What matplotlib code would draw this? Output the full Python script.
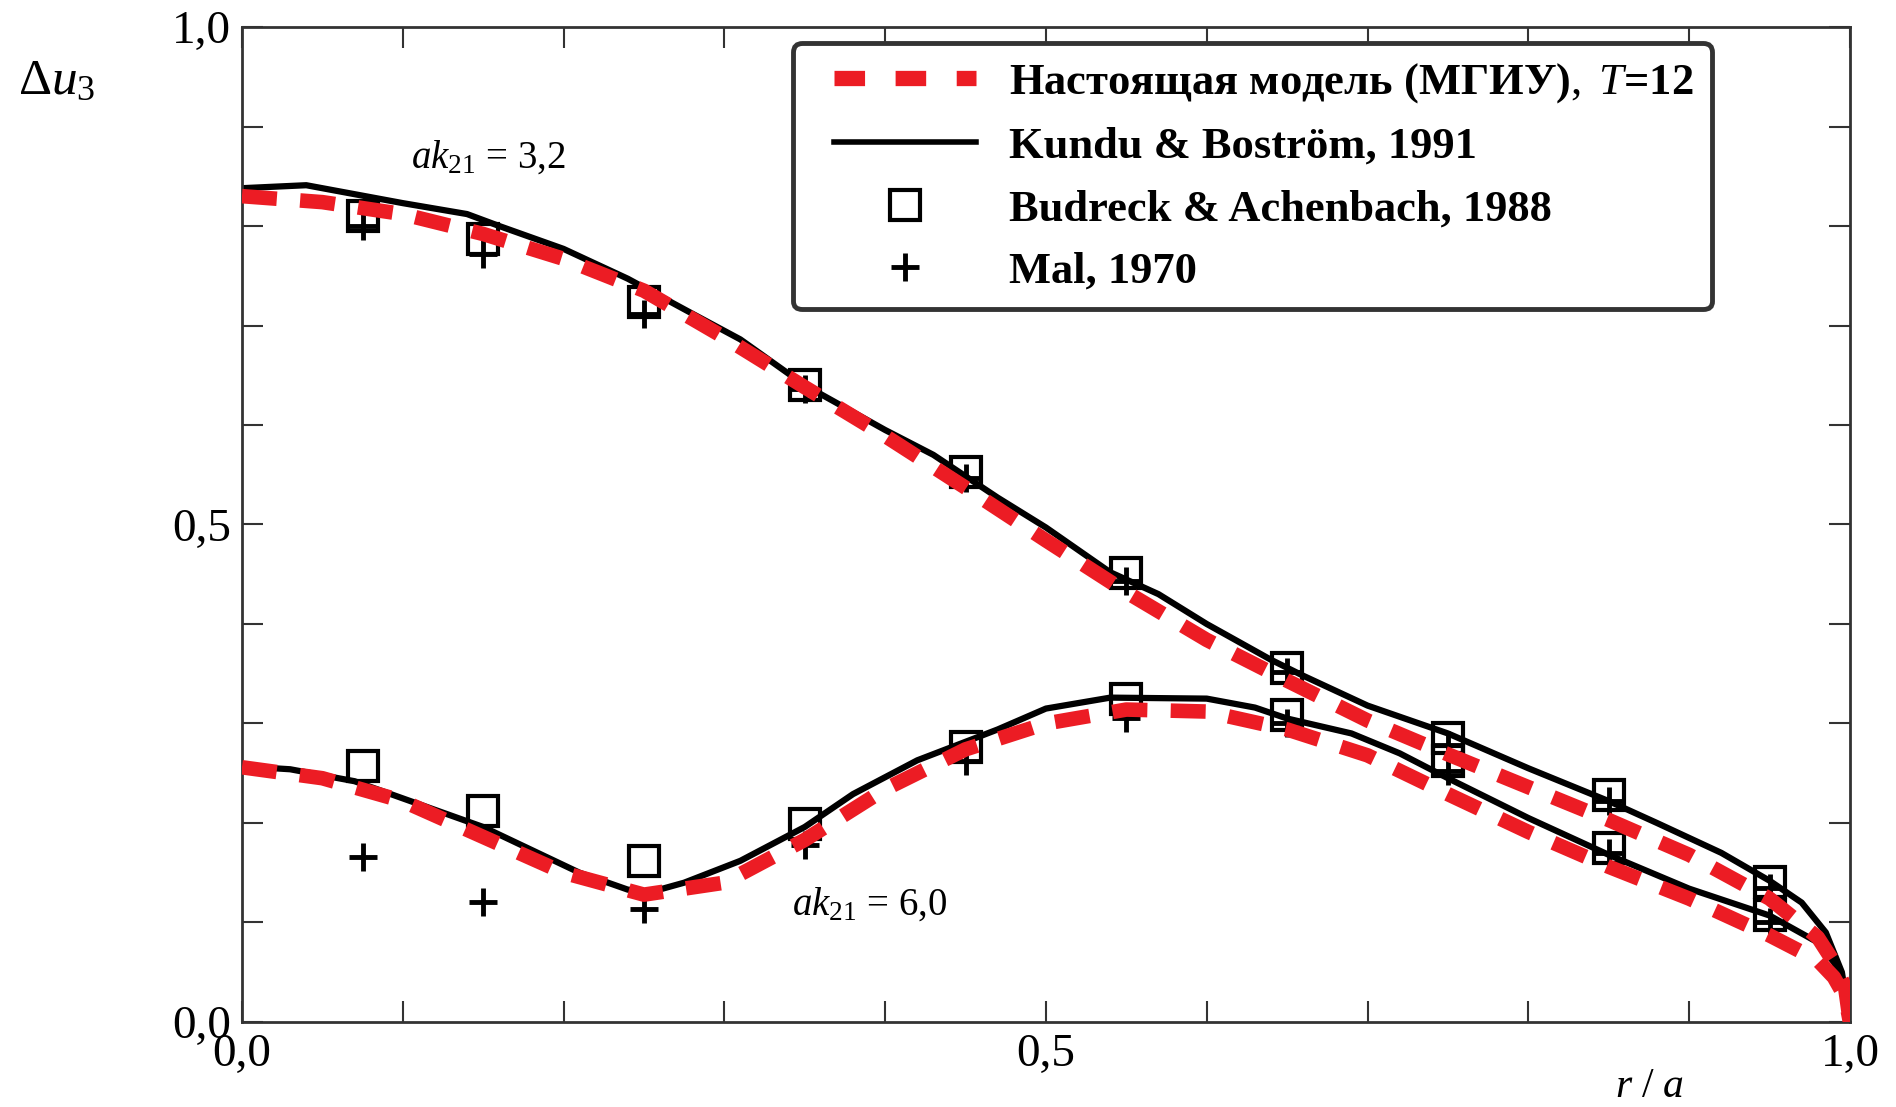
import numpy as np
import matplotlib
matplotlib.use("Agg")
import matplotlib.pyplot as plt
from matplotlib.lines import Line2D
from matplotlib.legend_handler import HandlerLine2D

plt.rcParams['font.family'] = ['Liberation Serif', 'DejaVu Serif']
plt.rcParams['mathtext.fontset'] = 'custom'
plt.rcParams['mathtext.rm'] = 'Liberation Serif'
plt.rcParams['mathtext.it'] = 'Liberation Serif:italic'
plt.rcParams['mathtext.bf'] = 'Liberation Serif:bold'

# --- model (red dashed), ak21 = 3,2
x_mod32 = [0, 0.05, 0.1, 0.15, 0.2, 0.25, 0.3, 0.35, 0.4, 0.45, 0.5, 0.55, 0.6,
           0.65, 0.7, 0.75, 0.8, 0.85, 0.9, 0.95, 0.98, 0.99, 0.997, 1.0]
y_mod32 = [0.830, 0.824, 0.812, 0.792, 0.767, 0.735, 0.688, 0.638, 0.589, 0.537,
           0.484, 0.432, 0.384, 0.343, 0.303, 0.269, 0.236, 0.203, 0.168, 0.124,
           0.085, 0.060, 0.035, 0.0]

# --- model (red dashed), ak21 = 6,0
x_mod60 = [0, 0.05, 0.1, 0.15, 0.2, 0.25, 0.3, 0.35, 0.4, 0.45, 0.5, 0.55, 0.6,
           0.65, 0.7, 0.75, 0.8, 0.85, 0.9, 0.95, 0.98, 0.99, 0.997, 1.0]
y_mod60 = [0.256, 0.245, 0.222, 0.186, 0.150, 0.128, 0.140, 0.183, 0.234, 0.274,
           0.300, 0.314, 0.312, 0.294, 0.268, 0.229, 0.191, 0.156, 0.124, 0.087,
           0.062, 0.045, 0.025, 0.0]

# --- Kundu & Boström 1991 (black solid)
x_kb32 = [0, 0.04, 0.07, 0.1, 0.14, 0.16, 0.2, 0.24, 0.28, 0.31, 0.35, 0.4, 0.43,
          0.47, 0.5, 0.54, 0.57, 0.6, 0.64, 0.66, 0.7, 0.75, 0.8, 0.85, 0.88,
          0.92, 0.95, 0.97, 0.985, 0.995, 1.0]
y_kb32 = [0.838, 0.841, 0.832, 0.823, 0.812, 0.800, 0.777, 0.747, 0.712, 0.686,
          0.640, 0.595, 0.570, 0.527, 0.497, 0.452, 0.430, 0.400, 0.364, 0.348,
          0.318, 0.290, 0.255, 0.222, 0.200, 0.170, 0.142, 0.120, 0.090, 0.050, 0.0]

x_kb60 = [0, 0.03, 0.07, 0.11, 0.15, 0.18, 0.21, 0.24, 0.255, 0.275, 0.31, 0.35,
          0.38, 0.42, 0.47, 0.5, 0.54, 0.6, 0.63, 0.65, 0.69, 0.72, 0.75, 0.8,
          0.85, 0.9, 0.95, 0.98, 0.99, 0.997, 1.0]
y_kb60 = [0.257, 0.254, 0.242, 0.219, 0.196, 0.173, 0.150, 0.133, 0.131, 0.140,
          0.162, 0.196, 0.229, 0.263, 0.294, 0.315, 0.326, 0.325, 0.316, 0.305,
          0.290, 0.270, 0.245, 0.205, 0.168, 0.134, 0.107, 0.080, 0.060, 0.035, 0.0]

# --- Budreck & Achenbach 1988 (squares)
x_ba = [0.075, 0.15, 0.25, 0.35, 0.45, 0.55, 0.65, 0.75, 0.85, 0.95]
y_ba32 = [0.810, 0.787, 0.724, 0.640, 0.553, 0.451, 0.356, 0.285, 0.228, 0.141]
y_ba60 = [0.257, 0.212, 0.162, 0.199, 0.276, 0.325, 0.309, 0.262, 0.175, 0.108]

# --- Mal 1970 (pluses)
x_mal = [0.075, 0.15, 0.25, 0.35, 0.45, 0.55, 0.65, 0.75, 0.85, 0.95]
y_mal32 = [0.800, 0.772, 0.712, 0.636, 0.547, 0.443, 0.352, 0.278, 0.222, 0.135]
y_mal60 = [0.166, 0.121, 0.114, 0.178, 0.262, 0.306, 0.300, 0.252, 0.170, 0.100]

red = '#ec1c24'
dark = '#333333'

fig = plt.figure(figsize=(18.96, 11.07), dpi=100)
ax = fig.add_axes([0.1276, 0.0768, 0.8481, 0.8988])

for xs, ys in [(x_kb32, y_kb32), (x_kb60, y_kb60)]:
    ax.plot(xs, ys, color='black', lw=4.5, zorder=2)
for ys in [y_ba32, y_ba60]:
    ax.plot(x_ba, ys, ls='none', marker='s', ms=22, mfc='none', mec='black', mew=3, zorder=3)
ax.plot(x_mal, y_mal32, ls='none', marker='+', ms=20, mec='black', mew=3.5, zorder=3)
ax.plot(x_mal, y_mal60, ls='none', marker='+', ms=20, mec='black', mew=3.5, zorder=3)
for xs, ys in [(x_mod32, y_mod32), (x_mod60, y_mod60)]:
    ax.plot(xs, ys, color=red, lw=10.5, dashes=(2.4, 1.6), solid_capstyle='butt',
            dash_capstyle='butt', zorder=4)

ax.set_xlim(0, 1)
ax.set_ylim(0, 1)
ticks = np.arange(0, 1.01, 0.1)
ax.set_xticks(ticks)
ax.set_yticks(ticks)
lab = ['0,0', '', '', '', '', '0,5', '', '', '', '', '1,0']
ax.set_xticklabels(lab)
ax.set_yticklabels(lab)
ax.tick_params(direction='in', length=15, width=1.5, color=dark, labelsize=34,
               top=True, right=True, pad=8)
for s in ax.spines.values():
    s.set_color(dark)
    s.set_linewidth(2)

ax.text(0.105, 0.869, r'$ak_{21}$ = 3,2', fontsize=28, va='center', ha='left')
ax.text(0.342, 0.118, r'$ak_{21}$ = 6,0', fontsize=28, va='center', ha='left')

fig.text(0.030, 0.926, r'$\Delta u_3$', fontsize=37, ha='center', va='center')
fig.text(0.870, 0.018, r'$r\ /\ a$', fontsize=30, ha='center', va='center')

handles = [
    Line2D([], [], color=red, lw=11, dashes=(2.0, 2.0), dash_capstyle='butt'),
    Line2D([], [], color='black', lw=4),
    Line2D([], [], ls='none', marker='s', ms=22, mfc='none', mec='black', mew=3),
    Line2D([], [], ls='none', marker='+', ms=20, mec='black', mew=3.5),
]
labels = [r'Настоящая модель (МГИУ)$\mathit{,\ T}$=12',
          'Kundu & Boström, 1991',
          'Budreck & Achenbach, 1988',
          'Mal, 1970']
leg = ax.legend(handles, labels, loc='upper left', bbox_to_anchor=(0.343, 0.984),
                borderaxespad=0, prop={'weight': 'bold', 'size': 32},
                handlelength=3.7, labelspacing=0.5, borderpad=0.4,
                handletextpad=0.76, fancybox=True, framealpha=1, edgecolor=dark,
                handler_map={Line2D: HandlerLine2D(xpad=0.52)})
leg.get_frame().set_linewidth(3.5)

fig.savefig('out.png', dpi=100)
